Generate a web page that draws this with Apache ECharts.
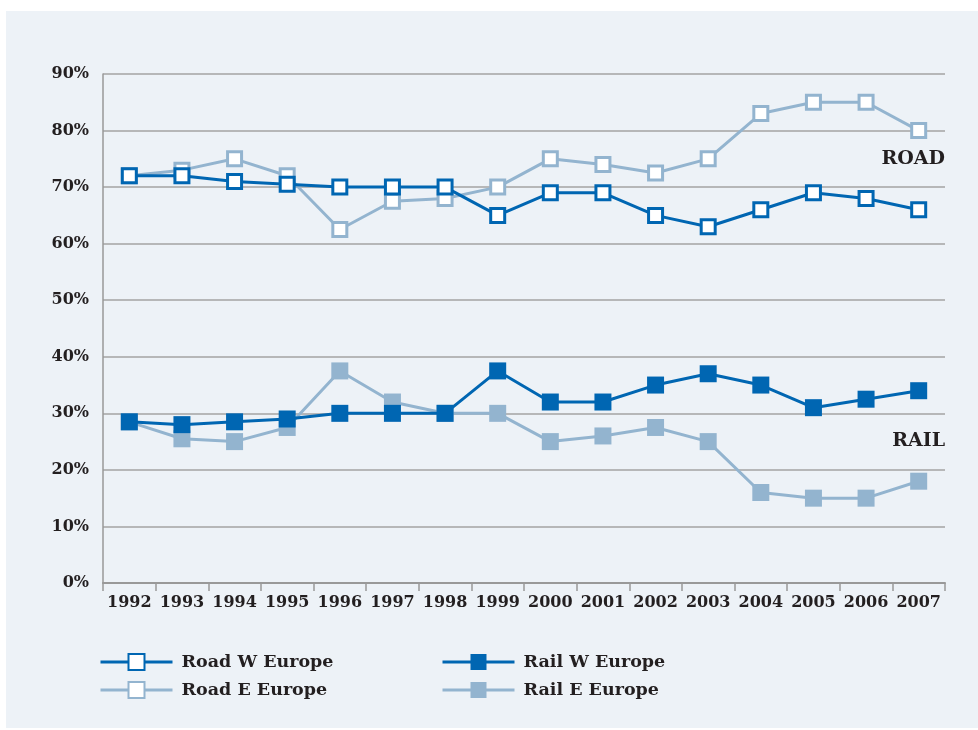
<!DOCTYPE html>
<html>
<head>
<meta charset="utf-8">
<script src="https://cdn.jsdelivr.net/npm/echarts@6/dist/echarts.min.js"></script>
<style>
  html, body { margin: 0; padding: 0; background: #fff; }
  #panel { position: absolute; left: 6px; top: 11px; width: 972px; height: 717px; background: #edf2f7; }
  #chart { position: absolute; left: 0; top: 0; width: 978px; height: 730px; }
</style>
</head>
<body>
<div id="panel"></div>
<div id="chart"></div>
<script>
  var years = ['1992', '1993', '1994', '1995', '1996', '1997', '1998', '1999',
    '2000', '2001', '2002', '2003', '2004', '2005', '2006', '2007'];
  var roadW = [72, 72, 71, 70.5, 70, 70, 70, 65, 69, 69, 65, 63, 66, 69, 68, 66];
  var roadE = [72, 73, 75, 72, 62.5, 67.5, 68, 70, 75, 74, 72.5, 75, 83, 85, 85, 80];
  var railW = [28.5, 28, 28.5, 29, 30, 30, 30, 37.5, 32, 32, 35, 37, 35, 31, 32.5, 34];
  var railE = [28.5, 25.5, 25, 27.5, 37.5, 32, 30, 30, 25, 26, 27.5, 25, 16, 15, 15, 18];

  var dark = '#0066b2';
  var light = '#93b4cf';
  var ink = '#231f20';
  var font = 'DejaVu Serif';

  var chart = echarts.init(document.getElementById('chart'));

  function line(name, data, color, hollow) {
    return {
      name: name,
      type: 'line',
      data: data,
      symbol: 'rect',
      symbolSize: hollow ? 14 : 17,
      showAllSymbol: true,
      lineStyle: { color: color, width: 3 },
      itemStyle: hollow
        ? { color: '#fff', borderColor: color, borderWidth: 3 }
        : { color: color, borderWidth: 0 },
      emphasis: { disabled: true },
      z: hollow ? 3 : 2
    };
  }

  var legendText = { color: ink, fontFamily: font, fontWeight: 'bold', fontSize: 17.5, padding: [0, 0, 0, 4] };

  var option = {
    animation: false,
    backgroundColor: 'transparent',
    grid: { left: 103, right: 33, top: 74, bottom: 147 },
    legend: [
      {
        data: ['Road W Europe', 'Road E Europe'],
        orient: 'vertical', left: 99, top: 653, padding: 0,
        itemWidth: 72, itemHeight: 20, itemGap: 10,
        lineStyle: { width: 3 },
        textStyle: legendText
      },
      {
        data: ['Rail W Europe', 'Rail E Europe'],
        orient: 'vertical', left: 441, top: 653, padding: 0,
        itemWidth: 72, itemHeight: 20, itemGap: 10,
        lineStyle: { width: 3 },
        textStyle: legendText
      }
    ],
    xAxis: {
      type: 'category',
      data: years,
      boundaryGap: true,
      axisLine: { lineStyle: { color: '#999', width: 2 } },
      axisTick: { show: true, length: 8, lineStyle: { color: '#999', width: 1.5 } },
      axisLabel: { color: ink, fontFamily: font, fontWeight: 'bold', fontSize: 16, margin: 12, interval: 0 }
    },
    yAxis: {
      type: 'value',
      min: 0, max: 90, interval: 10,
      axisLine: { show: true, lineStyle: { color: '#999', width: 1.5 } },
      axisTick: { show: false },
      axisLabel: { formatter: '{value}%', color: ink, fontFamily: font, fontWeight: 'bold', fontSize: 16, margin: 14 },
      splitLine: { lineStyle: { color: '#a3a3a3', width: 1.5 } }
    },
    graphic: [
      { type: 'text', right: 33, top: 150, style: { text: 'ROAD', fill: ink, font: 'bold 19px "DejaVu Serif"' } },
      { type: 'text', right: 33, top: 432, style: { text: 'RAIL', fill: ink, font: 'bold 19px "DejaVu Serif"' } }
    ],
    series: [
      line('Road W Europe', roadW, dark, true),
      line('Road E Europe', roadE, light, true),
      line('Rail W Europe', railW, dark, false),
      line('Rail E Europe', railE, light, false)
    ]
  };

  // dark lines on top of light ones
  option.series[0].z = 4;
  option.series[2].z = 3;
  option.series[1].z = 2;
  option.series[3].z = 1;

  chart.setOption(option);
</script>
</body>
</html>
